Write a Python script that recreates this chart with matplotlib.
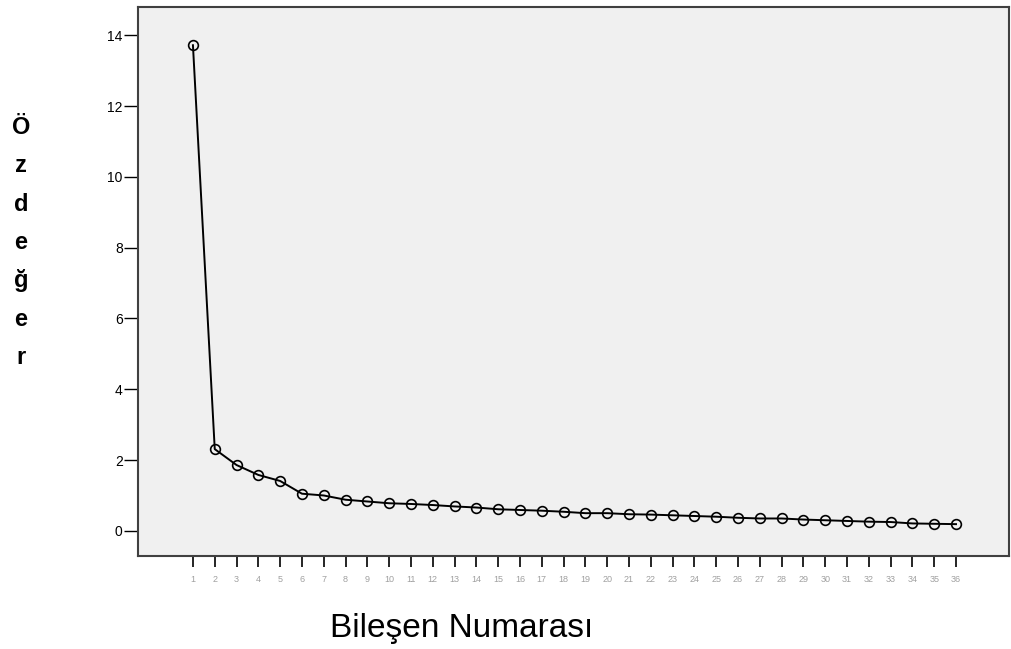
import matplotlib
matplotlib.use("Agg")
import matplotlib.pyplot as plt

components = list(range(1, 37))
eigenvalues = [13.72, 2.31, 1.86, 1.58, 1.41, 1.05, 1.00, 0.88, 0.83, 0.78,
               0.76, 0.73, 0.69, 0.66, 0.61, 0.59, 0.57, 0.54, 0.50, 0.50,
               0.47, 0.46, 0.44, 0.42, 0.40, 0.37, 0.35, 0.35, 0.32, 0.30,
               0.28, 0.26, 0.25, 0.21, 0.20, 0.19]
y_ticks = [0, 2, 4, 6, 8, 10, 12, 14]
ylabel_letters = ["Ö", "z", "d", "e", "ğ", "e", "r"]
xlabel = "Bileşen Numarası"

plt.rcParams['font.family'] = ['Liberation Sans', 'DejaVu Sans']

fig = plt.figure(figsize=(10.11, 6.49), dpi=100)
ax = fig.add_axes([138/1011, 1 - 556/649, (1009-138)/1011, (556-7)/649])
ax.set_facecolor('#f0f0f0')

ax.plot(components, eigenvalues, color='black', lw=1.4,
        marker='o', markersize=7, markerfacecolor='none',
        markeredgecolor='black', markeredgewidth=1.2)

ax.set_xlim(-1.52, 38.43)
ax.set_ylim(-0.71, 14.8)
ax.set_xticks(components)
ax.set_xticklabels([str(c) for c in components], fontsize=6.5, color='#a0a0a0')
ax.set_yticks(y_ticks)
ax.set_yticklabels([str(v) for v in y_ticks], fontsize=10)
ax.tick_params(axis='x', length=8, width=1.2, direction='out', pad=6, colors='black', labelcolor='#a0a0a0')
ax.tick_params(axis='y', length=10, width=1.0, direction='out', pad=1)

for s in ax.spines.values():
    s.set_color('#404040')
    s.set_linewidth(1.5)

for i, ch in enumerate(ylabel_letters):
    fig.text(21/1011, 1 - (127 + i*38.5)/649, ch, fontsize=17, fontweight='bold',
             ha='center', va='center')

fig.text(462/1011, 1 - 629/649, xlabel, fontsize=24, ha='center', va='center')

fig.savefig('out.png', dpi=100, facecolor='white')
